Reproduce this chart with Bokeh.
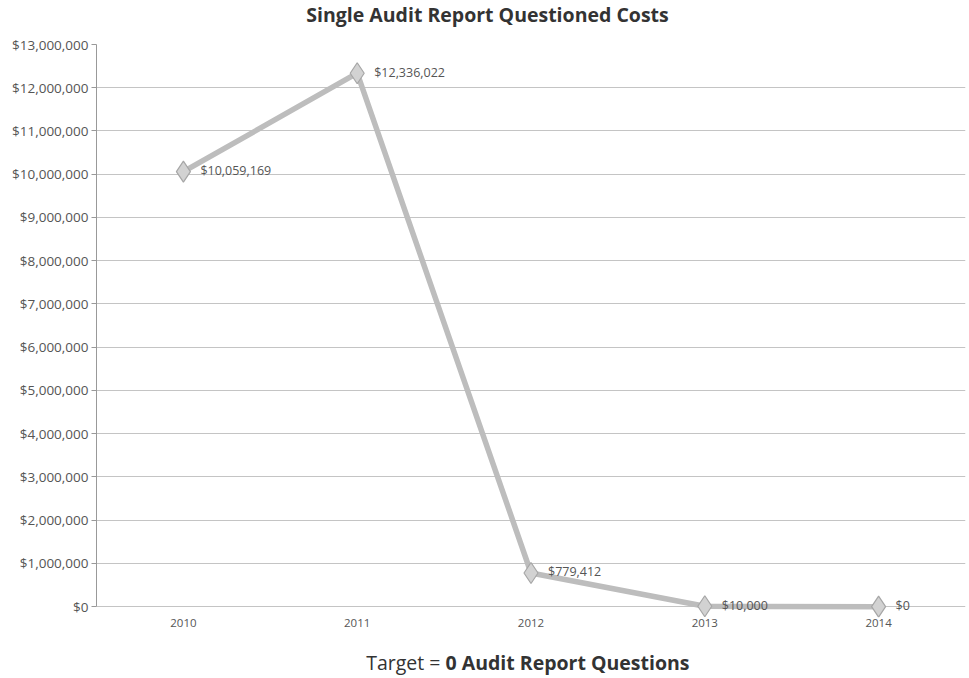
from bokeh.plotting import figure
from bokeh.layouts import column
from bokeh.models import ColumnDataSource, NumeralTickFormatter, Label, LabelSet, FixedTicker
from bokeh.core.properties import value
from bokeh.embed import file_html
from bokeh.resources import INLINE

years = ["2010", "2011", "2012", "2013", "2014"]
costs = [10059169, 12336022, 779412, 10000, 0]
title_text = "Single Audit Report Questioned Costs"
sub_plain = "Target = "
sub_bold = "0 Audit Report Questions"

labels = ["${:,.0f}".format(v) for v in costs]
src = ColumnDataSource(dict(x=years, y=costs, lab=labels))


def text_strip(h):
    f = figure(width=969, height=h, x_range=(0, 969), y_range=(0, h),
               output_backend="svg", toolbar_location=None,
               min_border=0, min_border_left=0, min_border_right=0,
               min_border_top=0, min_border_bottom=0)
    f.axis.visible = False
    f.grid.visible = False
    f.outline_line_color = None
    f.border_fill_color = "white"
    f.background_fill_color = "white"
    return f


# title strip (canvas y 0..30); frames of the column are aligned (frame left = 96)
top = text_strip(30)
top.add_layout(Label(x=391, y=16, x_units="screen", y_units="screen",
                     text=title_text, text_align="center", text_baseline="middle",
                     text_font="Open Sans", text_font_size="19.5px", text_font_style="bold",
                     text_color="#333333"))

p = figure(width=969, height=610, x_range=years, y_range=(-250000, 13000000),
           output_backend="svg", toolbar_location=None,
           min_border_left=96, min_border_right=4, min_border_top=14, min_border_bottom=23)
p.outline_line_color = None
p.background_fill_color = "white"
p.border_fill_color = "white"

p.line("x", "y", source=src, line_color="#bdbdbd", line_width=5.5)
p.scatter("x", "y", source=src, marker="diamond", size=21,
          fill_color="#d2d2d2", line_color="#a6a6a6", line_width=1.2)
p.add_layout(LabelSet(x="x", y="y", text="lab", source=src, x_offset=17, y_offset=1,
                      text_baseline="middle", text_font=value("Open Sans"),
                      text_font_size=value("12.5px"), text_color="#555555"))

p.yaxis.ticker = FixedTicker(ticks=list(range(0, 13000001, 1000000)))
p.yaxis.bounds = (0, 13000000)
p.yaxis.formatter = NumeralTickFormatter(format="$0,0")
p.yaxis.major_label_text_font = "Open Sans"
p.yaxis.major_label_text_font_size = "13.5px"
p.yaxis.major_label_text_color = "#555555"
p.yaxis.major_label_standoff = 3
p.yaxis.axis_line_color = "#999999"
p.yaxis.major_tick_line_color = "#999999"
p.yaxis.major_tick_out = 5
p.yaxis.major_tick_in = 0
p.yaxis.minor_tick_line_color = None

p.xaxis.major_label_text_font = "Open Sans"
p.xaxis.major_label_text_font_size = "11.5px"
p.xaxis.major_label_text_color = "#555555"
p.xaxis.major_label_standoff = -5
p.xaxis.axis_line_color = None
p.xaxis.major_tick_line_color = None
p.xaxis.minor_tick_line_color = None

p.xgrid.grid_line_color = None
p.ygrid.grid_line_color = "#c4c4c4"
p.ygrid.grid_line_width = 1

# subtitle strip (canvas y 640..678)
bot = text_strip(38)
bot.add_layout(Label(x=349, y=16, x_units="screen", y_units="screen",
                     text=sub_plain, text_align="right", text_baseline="middle",
                     text_font="Open Sans", text_font_size="19.5px", text_color="#333333"))
bot.add_layout(Label(x=349, y=16, x_units="screen", y_units="screen",
                     text=sub_bold, text_align="left", text_baseline="middle",
                     text_font="Open Sans", text_font_size="19.5px", text_font_style="bold",
                     text_color="#333333"))

layout = column(top, p, bot, spacing=0)
open("out.html", "w").write(file_html(layout, INLINE))
